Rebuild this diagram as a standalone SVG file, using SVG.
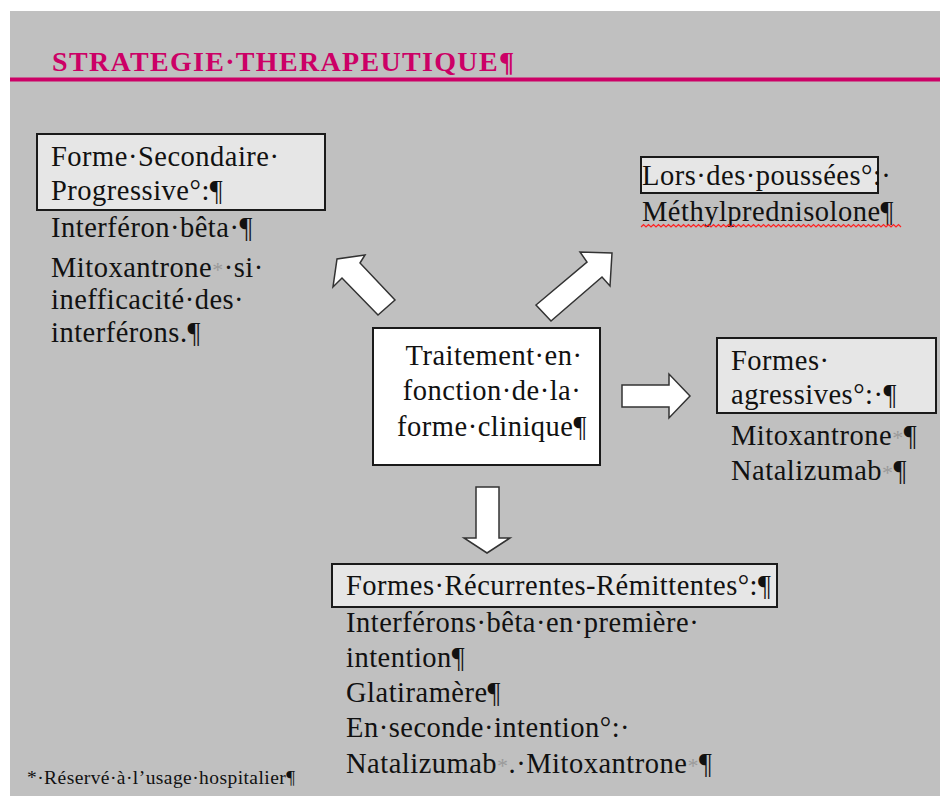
<svg xmlns="http://www.w3.org/2000/svg" width="940" height="796" viewBox="0 0 940 796" font-family="'Liberation Serif','Times New Roman',serif">
<defs>
<style>
.t{font-family:'Liberation Serif','Times New Roman',serif;font-size:28.5px;fill:#111;letter-spacing:0.5px}
.box{fill:#e6e6e6;stroke:#1a1a1a;stroke-width:2}
.arrow{fill:#ffffff;stroke:#333;stroke-width:1.5;stroke-linejoin:miter}
.ast{fill:#9a9a9a;font-size:22px}
</style>
</defs>
<rect x="0" y="0" width="940" height="796" fill="#ffffff"/>
<rect x="10" y="11" width="930" height="785" fill="#c0c0c0"/>
<rect x="10" y="77.5" width="930" height="4" fill="#cc0066"/>
<text x="52" y="71" font-family="'Liberation Serif','Times New Roman',serif" font-size="28" font-weight="bold" fill="#cc0066" textLength="462" lengthAdjust="spacing">STRATEGIE·THERAPEUTIQUE¶</text>

<g id="connectors">
<polygon class="arrow" points="395,300 360,263 365,255 337,259 333,287 342,278 378,315"/>
<polygon class="arrow" points="536,305 587,262 580,252 612,253 610,286 602,277 551,321"/>
<polygon class="arrow" points="622,385 669,385 669,374 690,396 669,418 669,407 622,407"/>
<polygon class="arrow" points="476,487 499,487 499,538 510,538 487,553 464,538 476,538"/>
</g>

<g id="node-secondaire" font-family="'Liberation Serif','Times New Roman',serif">
<rect class="box" x="37" y="134" width="288" height="76"/>
<text class="t" x="51" y="166">Forme·Secondaire·</text>
<text class="t" x="51" y="200">Progressive°:¶</text>
<text class="t" x="51" y="237">Interféron·bêta·¶</text>
<text class="t" x="51" y="277">Mitoxantrone<tspan class="ast">*</tspan>·si·</text>
<text class="t" x="51" y="309">inefficacité·des·</text>
<text class="t" x="51" y="342">interférons.¶</text>
</g>

<g id="node-poussees" font-family="'Liberation Serif','Times New Roman',serif">
<rect class="box" x="641" y="157" width="237" height="36"/>
<text class="t" x="642" y="185">Lors·des·poussées°:·</text>
<text class="t" x="642" y="221">Méthylprednisolone¶</text>
<path d="M641,227 l2.5,-2.5 l2.5,2.5 l2.5,-2.5 l2.5,2.5 l2.5,-2.5 l2.5,2.5 l2.5,-2.5 l2.5,2.5 l2.5,-2.5 l2.5,2.5 l2.5,-2.5 l2.5,2.5 l2.5,-2.5 l2.5,2.5 l2.5,-2.5 l2.5,2.5 l2.5,-2.5 l2.5,2.5 l2.5,-2.5 l2.5,2.5 l2.5,-2.5 l2.5,2.5 l2.5,-2.5 l2.5,2.5 l2.5,-2.5 l2.5,2.5 l2.5,-2.5 l2.5,2.5 l2.5,-2.5 l2.5,2.5 l2.5,-2.5 l2.5,2.5 l2.5,-2.5 l2.5,2.5 l2.5,-2.5 l2.5,2.5 l2.5,-2.5 l2.5,2.5 l2.5,-2.5 l2.5,2.5 l2.5,-2.5 l2.5,2.5 l2.5,-2.5 l2.5,2.5 l2.5,-2.5 l2.5,2.5 l2.5,-2.5 l2.5,2.5 l2.5,-2.5 l2.5,2.5 l2.5,-2.5 l2.5,2.5 l2.5,-2.5 l2.5,2.5 l2.5,-2.5 l2.5,2.5 l2.5,-2.5 l2.5,2.5 l2.5,-2.5 l2.5,2.5 l2.5,-2.5 l2.5,2.5 l2.5,-2.5 l2.5,2.5 l2.5,-2.5 l2.5,2.5 l2.5,-2.5 l2.5,2.5 l2.5,-2.5 l2.5,2.5 l2.5,-2.5 l2.5,2.5 l2.5,-2.5 l2.5,2.5 l2.5,-2.5 l2.5,2.5 l2.5,-2.5 l2.5,2.5 l2.5,-2.5 l2.5,2.5 l2.5,-2.5 l2.5,2.5 l2.5,-2.5 l2.5,2.5 l2.5,-2.5 l2.5,2.5 l2.5,-2.5 l2.5,2.5 l2.5,-2.5 l2.5,2.5 l2.5,-2.5 l2.5,2.5 l2.5,-2.5 l2.5,2.5 l2.5,-2.5 l2.5,2.5 l2.5,-2.5 l2.5,2.5 l2.5,-2.5 l2.5,2.5 l2.5,-2.5 l2.5,2.5 l2.5,-2.5 l2.5,2.5" fill="none" stroke="#ff2020" stroke-width="1.2"/>
</g>

<g id="node-centre" font-family="'Liberation Serif','Times New Roman',serif">
<rect x="373" y="328" width="227" height="137" fill="#ffffff" stroke="#1a1a1a" stroke-width="2"/>
<text class="t" x="494" y="365" text-anchor="middle">Traitement·en·</text>
<text class="t" x="492" y="400" text-anchor="middle">fonction·de·la·</text>
<text class="t" x="492" y="436" text-anchor="middle">forme·clinique¶</text>
</g>

<g id="node-agressives" font-family="'Liberation Serif','Times New Roman',serif">
<rect class="box" x="717" y="338" width="219" height="75"/>
<text class="t" x="731" y="370">Formes·</text>
<text class="t" x="731" y="404">agressives°:·¶</text>
<text class="t" x="731" y="445">Mitoxantrone<tspan class="ast">*</tspan>¶</text>
<text class="t" x="731" y="480">Natalizumab<tspan class="ast">*</tspan>¶</text>
</g>

<g id="node-recurrentes" font-family="'Liberation Serif','Times New Roman',serif">
<rect class="box" x="332" y="564" width="445" height="43"/>
<text class="t" x="346" y="595">Formes·Récurrentes-Rémittentes°:¶</text>
<text class="t" x="346" y="632">Interférons·bêta·en·première·</text>
<text class="t" x="346" y="667">intention¶</text>
<text class="t" x="346" y="702">Glatiramère¶</text>
<text class="t" x="346" y="737">En·seconde·intention°:·</text>
<text class="t" x="346" y="773">Natalizumab<tspan class="ast">*</tspan>.·Mitoxantrone<tspan class="ast">*</tspan>¶</text>
</g>

<text x="27" y="784" font-family="'Liberation Serif','Times New Roman',serif" font-size="19.5" fill="#111" textLength="268" lengthAdjust="spacing">*·Réservé·à·l’usage·hospitalier¶</text>
</svg>
